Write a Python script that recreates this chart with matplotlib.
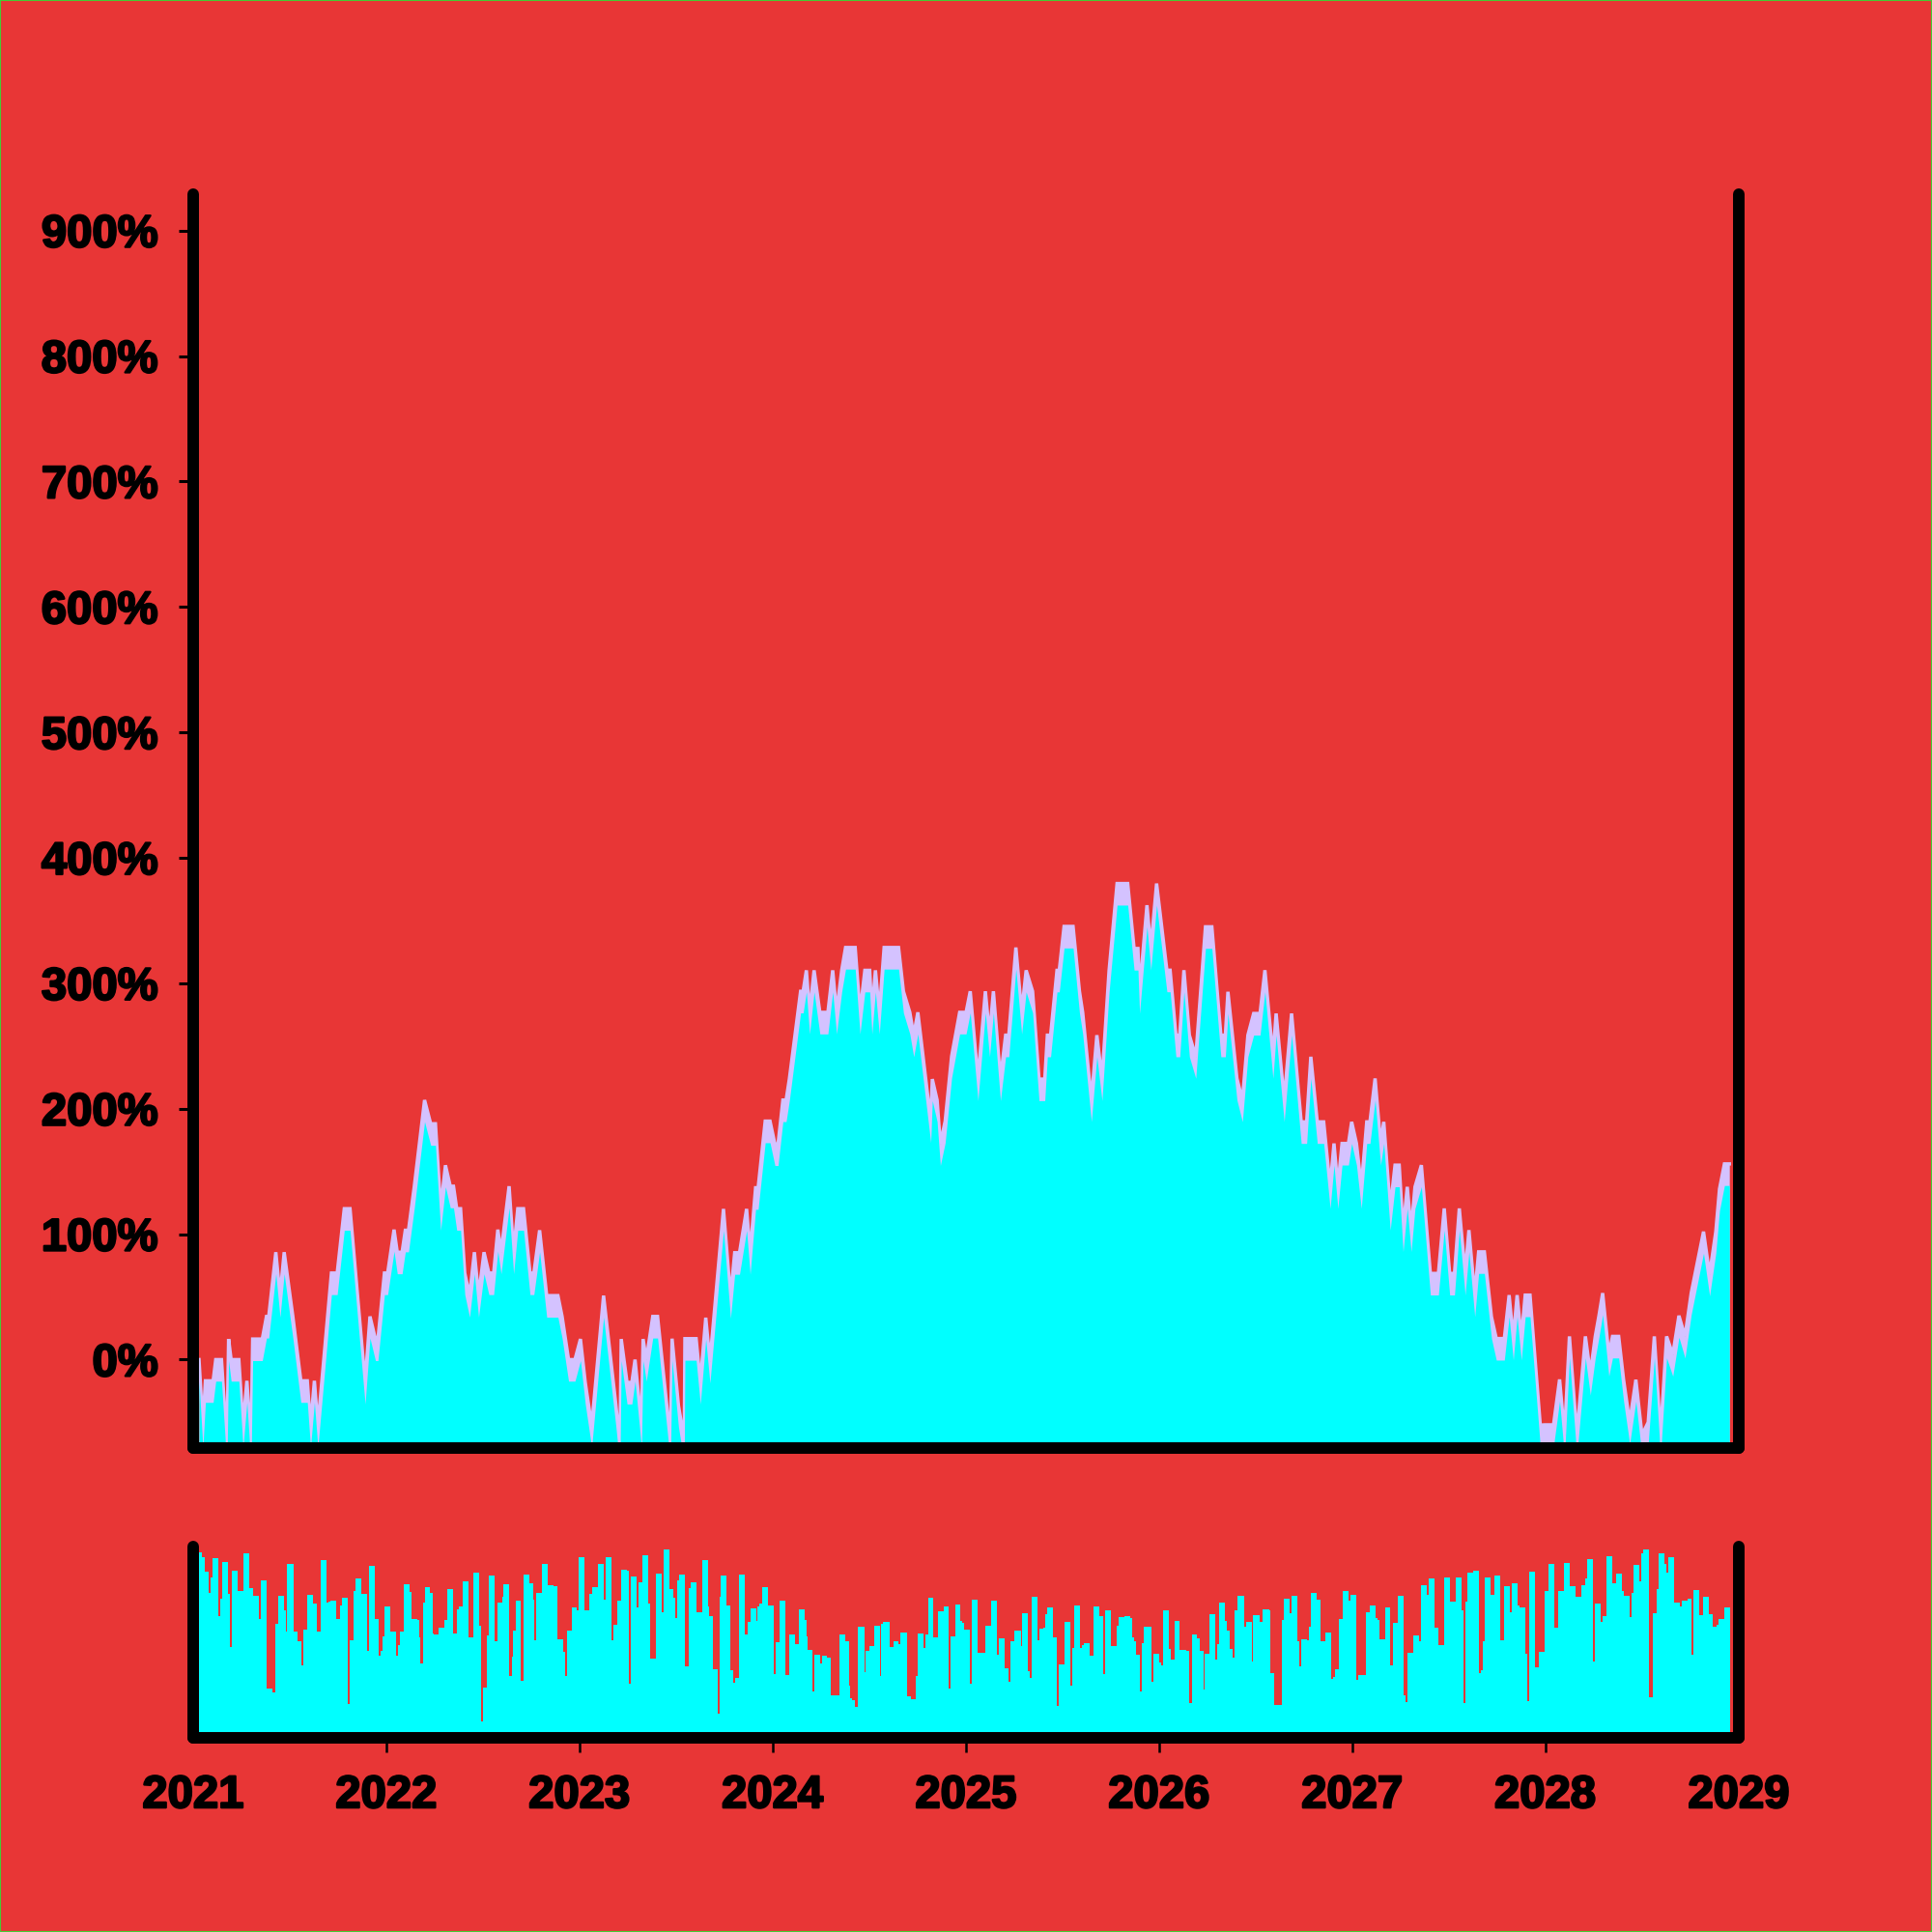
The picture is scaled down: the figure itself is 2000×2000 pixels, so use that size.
import numpy as np
import pandas as pd
import matplotlib
matplotlib.use("Agg")
import matplotlib.pyplot as plt
import matplotlib.dates as mdates
import matplotlib.patheffects as pe
from matplotlib.patches import Rectangle

BG = "#E83636"
CYAN = "#00FFFF"
LAV = "#D4C2FF"
START = pd.Timestamp("2021-01-01")
END = pd.Timestamp("2029-01-01")

# ---- main series: turning points (days since 2021-01-01, value in %) ----
line_days = [
    11.0, 18.3, 23.1, 37.7, 42.6, 53.5, 63.8, 66.9, 71.7, 86.3, 94.2, 101.5, 109.4, 112.4,
    130.6, 138.5, 142.8, 156.2, 164.1, 172.0, 188.4, 203.5, 215.7, 221.8, 229.1, 235.7,
    261.3, 272.2, 285.6, 296.5, 325.0, 334.2, 344.5, 349.3, 361.5, 367.6, 379.7, 385.8,
    394.9, 401.0, 407.0, 418.0, 437.4, 449.0, 458.0, 467.8, 476.9, 486.0, 492.1, 498.2,
    505.5, 513.4, 522.5, 531.6, 539.5, 549.8, 559.0, 568.0, 575.9, 582.0, 597.2, 605.7,
    613.6, 624.5, 636.7, 644.0, 654.9, 668.3, 689.5, 697.4, 709.6, 721.7, 732.1, 741.2,
    753.3, 775.8, 798.9, 806.8, 809.2, 820.2, 829.3, 835.3, 847.5, 850.5, 856.6, 868.8,
    877.9, 902.2, 905.3, 917.4, 928.3, 929.6, 950.8, 958.7, 969.0, 976.9, 1002.5, 1015.8,
    1023.7, 1032.8, 1046.2, 1052.9, 1063.2, 1068.0, 1081.4, 1090.5, 1099.7, 1105.7, 1114.8,
    1120.9, 1127.0, 1148.3, 1153.1, 1159.2, 1165.3, 1173.8, 1184.7, 1199.9, 1209.0, 1216.3,
    1226.0, 1233.3, 1251.5, 1260.6, 1269.8, 1278.9, 1283.1, 1289.8, 1297.1, 1306.2, 1333.5,
    1342.7, 1354.8, 1362.1, 1370.0, 1394.3, 1397.3, 1406.4, 1412.5, 1421.6, 1433.8, 1449.0,
    1461.1, 1469.0, 1483.6, 1497.6, 1505.5, 1512.8, 1526.1, 1535.9, 1541.9, 1555.3, 1566.2,
    1574.7, 1586.9, 1599.0, 1609.9, 1614.8, 1620.9, 1633.0, 1637.3, 1646.4, 1663.4, 1675.5,
    1681.6, 1698.0, 1708.4, 1718.1, 1731.5, 1746.6, 1766.7, 1778.8, 1786.1, 1789.1, 1803.1,
    1810.4, 1821.3, 1840.8, 1846.9, 1857.8, 1865.1, 1873.0, 1883.3, 1895.4, 1913.7, 1925.8,
    1942.8, 1951.3, 1956.2, 1973.2, 1983.5, 1993.9, 2004.8, 2016.9, 2026.1, 2041.3, 2047.3,
    2062.5, 2076.5, 2094.7, 2105.0, 2112.9, 2125.1, 2137.2, 2149.4, 2156.7, 2164.0, 2171.9,
    2184.0, 2190.1, 2199.2, 2208.3, 2218.6, 2224.7, 2234.4, 2244.8, 2250.8, 2263.0, 2272.1,
    2280.0, 2287.3, 2295.2, 2302.5, 2309.8, 2321.9, 2338.9, 2354.1, 2365.1, 2375.4, 2384.5,
    2393.6, 2404.6, 2411.8, 2422.8, 2430.1, 2441.0, 2454.4, 2463.5, 2478.7, 2487.8, 2495.6,
    2502.9, 2510.8, 2518.2, 2527.3, 2546.7, 2555.3, 2571.7, 2583.2, 2592.5, 2601.8, 2615.8,
    2632.0, 2641.3, 2650.6, 2657.6, 2664.6, 2676.3, 2683.2, 2694.9, 2704.2, 2715.7, 2727.4,
    2739.0, 2750.7, 2762.3, 2774.0, 2785.5, 2797.2, 2808.8, 2820.3, 2832.0, 2855.3, 2866.8,
    2878.5, 2885.5, 2894.8, 2904.1,
]
line_pct = [
    0, -52.8, -16.9, -16.9, 0, 0, -68, 16.4, 0, 0, -52.8, -16.9, -68, 16.4,
    16.4, 34.4, 34.4, 85.6, 51.0, 85.6, 34.4, -16.9, -16.9, -52.8, -16.9, -52.8,
    69.0, 69.0, 120.3, 120.3, -18.2, 34.4, 16.4, 16.4, 69.0, 69.0, 103.6, 85.6,
    85.6, 103.1, 103.1, 138.2, 206.9, 188, 188, 120.3, 154.9, 138.2, 138.2, 120.3,
    120.3, 69.0, 51.0, 85.6, 51.0, 85.6, 69.0, 69.0, 103.6, 85.6, 138.2, 85.6,
    120.3, 120.3, 69.0, 69.0, 103.1, 51.0, 51.0, 34.4, 0, 0, 16.4, -18.2,
    -52.8, 51.0, -35.4, -68, 16.4, -18.2, -18.2, 0, -52.8, 16.4, 0, 34.4,
    34.4, -64.5, 16.7, -36.5, -64.5, 16.7, 16.7, -18.3, 33.4, -1.5, 120.1, 50.2,
    85.2, 85.2, 120.1, 85.2, 137.0, 137.0, 190.1, 190.1, 171.9, 171.9, 206.9,
    206.9, 223.6, 293.6, 293.6, 310.3, 276.8, 310.3, 276.8, 276.8, 310.3, 276.8,
    310.3, 328.5, 328.5, 276.8, 310.3, 310.3, 276.8, 310.3, 276.8, 328.5, 328.5,
    293.6, 276.8, 258.6, 276.8, 190.1, 223.6, 206.9, 171.9, 190.1, 241.8, 276.8,
    276.8, 293.6, 223.6, 293.6, 258.6, 293.6, 223.6, 258.6, 258.6, 328.5, 276.8,
    310.3, 293.6, 223.6, 223.6, 258.6, 258.6, 310.3, 310.3, 345.3, 345.3, 293.6,
    276.8, 206.9, 258.6, 223.6, 310.3, 379.5, 379.5, 327.7, 327.7, 293.2, 362.2,
    327.7, 379.5, 310.4, 310.4, 258.6, 258.6, 310.4, 258.6, 241.4, 345.0, 345.0,
    258.6, 258.6, 293.2, 224.1, 206.8, 258.6, 275.9, 275.9, 310.4, 241.4, 275.9,
    206.8, 275.9, 189.5, 189.5, 241.4, 189.5, 189.5, 137.7, 172.3, 137.7, 172.3,
    172.3, 189.5, 172.3, 137.7, 189.5, 189.5, 224.1, 172.3, 189.5, 120.5, 155.0,
    155.0, 103.2, 137.7, 103.2, 137.7, 155.0, 68.7, 68.7, 120.5, 68.7, 68.7,
    120.5, 68.7, 103.2, 51.4, 85.9, 85.9, 34.1, 16.8, 16.8, 51.4, 16.8,
    51.4, 16.8, 51.4, 51.4, -52.2, -52, -52, -15.8, -60, 18.5, -60,
    18.5, -11, 18.5, 35, 53, 4, 18.5, 18.5, -16, -50, -16,
    -60, -50, 18.5, -60, 18.5, 4, 35, 18.5, 53, 102, 68,
    102, 136, 156, 156,
]

# ---- lower panel bars (start day since 2021-01-01, value) ----
bar_days = [
    11.1, 16.7, 21.6, 29.2, 32.7, 36.2, 47.4, 51.6, 55.0, 65.5, 69.7, 73.2, 83.6, 94.8, 106, 113,
    124, 128, 139, 149, 156, 160, 171, 175, 178, 190, 197, 204, 208, 215, 226, 234, 241, 252, 255,
    259, 270, 278, 281, 292, 296, 303, 307, 317, 328, 332, 343, 350, 354, 358, 361, 372, 383, 387,
    390, 398, 409, 412, 423, 427, 430, 434, 438, 448, 452, 455, 463, 474, 481, 492, 499, 503, 510,
    521, 529, 540, 544, 548, 555, 559, 569, 576, 584, 587, 598, 602, 605, 610, 620, 624, 635, 642,
    645, 649, 660, 671, 682, 689, 700, 704, 707, 715, 725, 729, 740, 748, 755, 766, 776, 780, 791,
    794, 802, 809, 820, 824, 828, 838, 842, 850, 860, 864, 875, 886, 889, 900, 907, 912, 915, 919,
    930, 937, 940, 951, 962, 973, 976, 983, 991, 995, 998, 1009, 1016, 1020, 1024, 1031, 1042,
    1049, 1053, 1064, 1067, 1071,
    1075.2, 1086.4, 1096.9, 1101.0, 1108, 1119.2, 1126.2, 1137.3, 1144.3, 1155.4, 1159, 1162.4,
    1170.1, 1173.6, 1184.7, 1188.2, 1198.7, 1205.7, 1213.3, 1221, 1232.2, 1239.2, 1242.6, 1246.1,
    1250.3, 1257.3, 1268.4, 1271.9, 1278.9, 1286.6, 1297.7, 1301.2, 1304.7, 1315.9, 1323.5, 1334,
    1337.5, 1348.7, 1356.3, 1366.8, 1370.3, 1381.4, 1384.9, 1389.1, 1399.6, 1407.3, 1418.7, 1428.9,
    1432.4, 1440.0, 1450.5, 1454, 1458.2, 1468.6, 1472.8, 1483.3, 1487.5, 1497.9, 1509.1, 1519.5,
    1523.7, 1534.9, 1541.9, 1545.3, 1553, 1564.2, 1567.7, 1578.1, 1581.6, 1585.8, 1596.3, 1600.5,
    1607.4, 1610.9, 1615.1, 1625.6, 1632.5, 1636.7, 1647.2, 1658.3, 1661.8, 1666.0, 1676.5, 1680.6,
    1684.1, 1694.6, 1702.3, 1712.8, 1720.4, 1723.9, 1735.1, 1745.5, 1749.7, 1760.2, 1771.3, 1774.8,
    1778.3, 1781.8, 1789.5, 1793, 1797.2, 1811.2, 1815.3, 1825.8, 1829.3, 1832.7, 1844, 1847.4,
    1855.1, 1865.5, 1876.7, 1883.6, 1887.8, 1898.3, 1902.5, 1909.4, 1912.9, 1920.6, 1931.8, 1935.3,
    1938.7, 1949.9, 1953.4, 1960.4, 1964.6, 1968.0, 1971.5, 1975.0, 1986.2, 1989.7, 2000.8, 2004.3,
    2015.5, 2022.5, 2033.6, 2037.1, 2044.1, 2058.7, 2062.2, 2072.7, 2076.9, 2087.3, 2090.8, 2095,
    2106.1, 2109.6, 2113.1, 2124.3, 2132, 2139.6,
    2150.6, 2154.3, 2157.9, 2165.2, 2172.5, 2183.4, 2187.1, 2198, 2201.7, 2216.2, 2223.5, 2234.5,
    2238.1, 2241.8, 2252.7, 2263.6, 2267.3, 2278.2, 2289.1, 2292.8, 2296.4, 2307.4, 2318.3, 2322,
    2332.9, 2336.5, 2347.5, 2354.7, 2365.7, 2376.6, 2387.6, 2398.5, 2402.1, 2405.8, 2409.4, 2420.4,
    2431.3, 2434.9, 2438.6, 2442.2, 2453.1, 2460.4, 2471.3, 2478.6, 2489.5, 2493.2, 2504.1, 2507.7,
    2518.6, 2522.3, 2525.9, 2536.9, 2540.5, 2544.1, 2555.1, 2562.4, 2573.3, 2580.6, 2591.5, 2602.5,
    2613.4, 2624.3, 2631.6, 2635.2, 2646.2, 2649.8, 2660.7, 2664.4, 2671.6, 2682.6, 2689.9, 2700.8,
    2704.4, 2715.4, 2719, 2722.7, 2733.6, 2737.2, 2740.9, 2751.8, 2759.1, 2766.4, 2770, 2781,
    2784.6, 2788.2, 2799.2, 2810.1, 2813.7, 2824.6, 2831.9, 2835.5, 2846.5, 2853.7, 2864.7, 2872,
    2879.3, 2882.9, 2893.8,
]
bar_vals = [
    93.8, 91.3, 84.0, 72.8, 81.0, 90.8, 60.8, 69.6, 88.7, 72.3, 44.4, 84.5, 73.8, 93.3, 75.3, 71.4,
    59.3, 79.2, 22.7, 20.7, 56.8, 71.1, 63.9, 52.8, 88.1, 52.6, 47.6, 35.1, 53.8, 71.9, 67.2, 52.4,
    89.7, 67.7, 68.4, 68.6, 59.3, 66.1, 70.1, 14.8, 48.2, 73.8, 80.3, 72.3, 42.7, 86.9, 59.2, 40.2,
    42.7, 50.3, 65.5, 52.6, 40.2, 45.5, 52.4, 77.1, 73.1, 59.2, 58.5, 49.6, 36.1, 67.6, 75.6, 72.9,
    51.6, 51.3, 54.6, 58.7, 74.6, 51.8, 64.2, 65.5, 79.0, 49.6, 83.2, 55.5, 5.7, 23.4, 50.4, 81.7,
    47.7, 67.6, 70.6, 77.1, 29.4, 39.3, 53.3, 68.9, 26.7, 82.2, 77.6, 69.2, 48.2, 72.8, 87.7, 77.0,
    76.5, 48.6, 42.2, 29.6, 52.9, 65.0, 63.5, 91.3, 63.9, 72.3, 75.6, 87.7, 69.4, 91.3, 48.1, 56.1,
    68.6, 84.7, 84.2, 25.4, 81.3, 65.4, 78.3, 92.4, 67.2, 38.5, 82.7, 62.7, 95.3, 74.6, 70.3, 59.7,
    79.3, 82.2, 34.3, 75.1, 78.2, 62.7, 89.7, 65.5, 60.5, 33.1, 9.9, 70.6, 81.7, 66.4, 32.4, 26.1,
    28.4, 82.2, 50.9, 57.8, 64.7, 58.3, 65.5, 67.2,
    75.6, 66.1, 30.6, 47.1, 68.9, 30.1, 51.1, 46.2, 64.2, 58.7, 50.1, 43.0, 21.5, 40.7, 36.1, 39.8,
    38.8, 19.2, 19.5, 50.9, 47.6, 24.5, 18.0, 16.8, 13.1, 55.1, 31.6, 42.5, 45.0, 55.6, 29.6, 56.6,
    57.6, 44.7, 47.6, 45.9, 52.3, 18.8, 17.3, 29.6, 51.6, 43.9, 50.9, 70.1, 49.7, 63.0, 65.5, 23.0,
    50.1, 66.7, 58.2, 57.1, 53.6, 25.4, 69.1, 41.7, 41.3, 55.8, 68.6, 40.3, 49.2, 33.4, 26.6, 47.6,
    52.9, 45.2, 62.4, 31.9, 28.6, 70.9, 48.2, 53.9, 54.8, 61.7, 65.0, 49.7, 13.8, 35.3, 57.5, 24.5,
    44.0, 66.1, 44.2, 45.4, 46.4, 40.2, 65.5, 60.7, 30.4, 63.9, 45.0, 55.8, 60.0, 60.8, 59.5, 49.6,
    47.4, 40.7, 21.3, 46.6, 55.3, 26.4, 41.0, 36.5, 34.8, 63.5, 43.5, 38.0, 58.2, 42.9, 42.4, 15.1,
    50.9, 49.1, 42.5, 22.4, 40.8, 61.5, 38.2, 46.1, 67.7, 58.0, 53.1, 43.7, 39.2, 63.5, 63.9, 71.3,
    55.1, 57.6, 37.0, 61.0, 57.5, 64.0, 63.7, 30.9, 14.5, 58.5, 69.6, 62.4, 71.3, 47.7, 34.5, 48.4,
    47.9, 55.1, 72.6, 69.2, 47.7, 52.1,
    28.1, 29.1, 33.1, 59.2, 73.6, 68.6, 71.6, 27.6, 29.9, 62.5, 66.2, 59.5, 58.5, 48.4, 65.2, 34.8,
    57.0, 71.3, 19.3, 15.6, 41.3, 50.4, 47.6, 76.8, 71.6, 80.3, 54.5, 45.7, 80.7, 68.2, 80.7, 63.7,
    15.1, 68.4, 83.2, 84.4, 30.8, 32.4, 47.7, 80.7, 71.8, 82.0, 48.2, 76.3, 62.7, 78.0, 66.2, 65.2,
    41.2, 16.3, 84.0, 33.8, 33.9, 41.8, 73.8, 87.7, 54.8, 73.6, 88.6, 76.3, 70.8, 76.8, 80.5, 90.4,
    37.1, 67.2, 57.6, 60.5, 91.8, 77.6, 82.9, 73.9, 71.4, 60.3, 72.8, 87.2, 78.8, 93.6, 95.3, 18.2,
    62.2, 74.6, 93.3, 87.7, 83.2, 91.4, 67.7, 65.5, 68.9, 69.7, 40.3, 74.5, 61.3, 70.6, 61.7, 55.1,
    56.0, 59.2, 65.0,
]
bar_end_day = 2904.7

y_ticks = list(range(0, 1000, 100))
year_labels = [str(y) for y in range(2021, 2030)]

plt.rcParams["font.family"] = ["Liberation Sans", "DejaVu Sans"]
plt.rcParams["font.weight"] = "bold"

fig = plt.figure(figsize=(20, 20), dpi=100, facecolor=BG)
ax = fig.add_axes([0.1, 0.2505, 0.8, 0.649])
ax2 = fig.add_axes([0.1, 0.1005, 0.8, 0.099])

t0 = mdates.date2num(START)
t1 = mdates.date2num(END)

xl = t0 + np.asarray(line_days, dtype=float)
yl = np.asarray(line_pct, dtype=float)
band = 17.2
ax.fill_between(xl, yl, -200, color=LAV, lw=0, zorder=1)
ax.plot(xl, yl, color=LAV, lw=2.5, zorder=1.2, solid_joinstyle="miter")
ax.fill_between(xl, yl - band, -200, color=CYAN, lw=0, zorder=1.5)

bd = np.asarray(bar_days, dtype=float)
bw = np.diff(np.append(bd, bar_end_day))
ax2.bar(t0 + bd, bar_vals, width=bw, align="edge", color=CYAN, lw=0)

SPW = 8.6
for a in (ax, ax2):
    a.set_facecolor(BG)
    a.set_xlim(t0, t1)
    a.spines["top"].set_visible(False)
    for s in ("left", "right", "bottom"):
        a.spines[s].set_linewidth(SPW)
        a.spines[s].set_color("black")
        a.spines[s].set_capstyle("round")
        a.spines[s].set_zorder(5)

heavy = [pe.withStroke(linewidth=1.6, foreground="black")]

ax.set_ylim(-70.5, 929)
ax.set_yticks(y_ticks)
ax.set_yticklabels([f"{v}%" for v in y_ticks])
ax.tick_params(axis="y", left=True, right=False, length=11, width=2.2, labelsize=34, pad=15)
ax.set_xticks([])
for lab in ax.get_yticklabels():
    lab.set_path_effects(heavy)

ax2.set_ylim(-2.85, 96.95)
ax2.set_yticks([])
year_dates = [mdates.date2num(pd.Timestamp(f"{y}-01-01")) for y in year_labels]
ax2.set_xticks(year_dates)
ax2.set_xticklabels(year_labels)
ax2.tick_params(axis="x", length=11, width=1.8, labelsize=34, pad=16.5)
for lab in ax2.get_xticklabels():
    lab.set_path_effects(heavy)
xt = ax2.xaxis.get_major_ticks()
xt[0].tick1line.set_visible(False)
xt[-1].tick1line.set_visible(False)

fig.add_artist(Rectangle((0, 0), 1, 1, transform=fig.transFigure, fill=False,
                         ec="#44CC33", lw=1.5))

fig.savefig("out.png", dpi=100, facecolor=BG)
